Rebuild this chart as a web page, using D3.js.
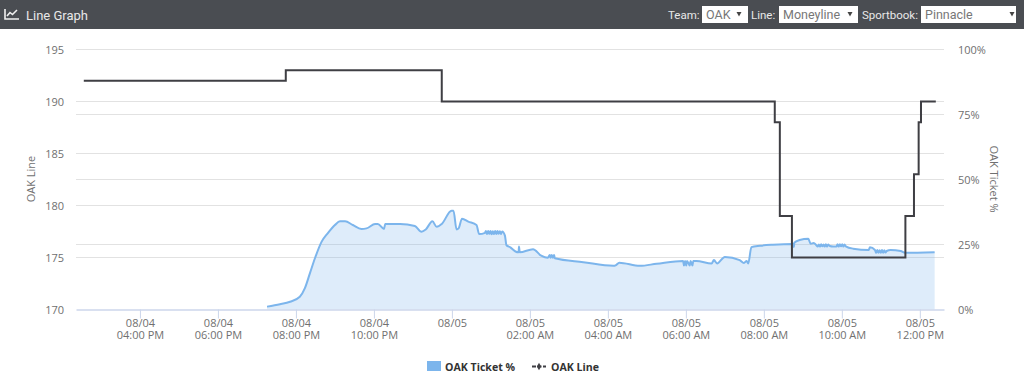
<!DOCTYPE html>
<html>
<head>
<meta charset="utf-8">
<title>Line Graph</title>
<script src="https://cdn.jsdelivr.net/npm/d3@7"></script>
<style>
    html, body { margin: 0; padding: 0; background: #fff; }
    svg { display: block; }
    text { font-family: "Open Sans", sans-serif; }
    .bar-text { font-family: Roboto, sans-serif; font-size: 11.5px; fill: #e8e8e8; }
    .bar-title { font-family: Roboto, sans-serif; font-size: 13px; fill: #e8e8e8; }
    .select-text { font-family: Roboto, sans-serif; font-size: 12.5px; fill: #777; }
    .axis-label { font-size: 11px; fill: #707070; }
    .legend-text { font-size: 10.6px; font-weight: 700; fill: #333; }
</style>
</head>
<body>
<script>
    // hours counted from 08/04 00:00
    var ticketHours = [
        19.26, 19.59, 19.85, 20.10, 20.23, 20.36, 20.49, 20.66, 20.82, 21.00, 21.13, 21.26, 21.46, 21.68, 21.81,
        22.03, 22.10, 22.26, 22.29, 22.67, 23.05, 23.22, 23.33, 23.50, 23.61, 23.74, 23.99, 24.04, 24.12, 24.17, 24.26, 24.42, 24.63, 24.70,
        24.85, 24.87, 24.90, 24.93, 24.96, 24.99, 25.02, 25.05, 25.08, 25.11, 25.14, 25.17, 25.20, 25.23, 25.26, 25.29,
        25.36, 25.40, 25.50, 25.63, 25.71, 25.72, 25.74, 26.08, 26.29, 26.46,
        26.51, 26.53, 26.56, 26.59, 26.62, 26.64,
        27.37, 28.14, 28.21, 28.29, 28.82, 29.25, 29.93,
        29.95, 29.98, 30.01, 30.03, 30.10, 30.12, 30.17, 30.19,
        30.27, 30.66, 30.72, 30.80, 31.00, 31.38, 31.49, 31.56, 31.60, 31.68, 31.90, 32.23, 32.75, 32.77, 32.78,
        32.92, 33.14, 33.20, 33.28, 33.34,
        33.38, 33.41, 33.44, 33.47, 33.50, 33.53, 33.56, 33.59, 33.62, 33.65, 33.69, 33.78,
        33.86, 33.89, 33.92, 33.95, 33.98, 34.01, 34.04, 34.07, 34.10,
        34.29, 34.69, 34.72, 34.85,
        34.88, 34.91, 34.94, 34.97, 35.00, 35.03, 35.06, 35.09, 35.12, 35.15,
        35.25, 35.51, 35.62, 36.38];
    var ticketPct = [
        1.1, 2.0, 3.0, 4.9, 8.2, 14.0, 19.8, 26.1, 29.4, 32.5, 33.9, 33.9, 32.5, 31.0, 31.2,
        32.9, 32.9, 31.0, 32.9, 32.9, 32.1, 29.9, 30.8, 33.9, 31.8, 32.9, 38.0, 38.0, 30.8, 31.2, 34.9, 33.8, 32.5, 29.0,
        29.5, 30.2, 29.0, 30.2, 29.1, 30.2, 28.9, 30.1, 29.0, 30.2, 29.0, 30.2, 29.1, 30.1, 29.0, 30.0,
        28.4, 24.7, 23.9, 22.3, 22.0, 24.2, 22.0, 23.2, 20.7, 19.9,
        21.0, 19.9, 21.0, 19.9, 21.0, 19.7,
        18.2, 16.8, 17.1, 18.0, 16.8, 17.6, 18.7,
        16.9, 18.7, 16.9, 18.7, 16.9, 18.7, 16.9, 18.7,
        18.7, 17.7, 19.0, 17.7, 20.2, 19.0, 17.9, 18.7, 17.7, 24.0, 24.5, 24.9, 25.2, 24.0, 25.7,
        26.7, 27.2, 25.3, 25.6, 24.8,
        24.2, 25.0, 24.2, 25.1, 24.3, 25.0, 24.2, 25.1, 24.2, 25.0, 24.4, 24.2,
        24.2, 25.1, 24.2, 25.1, 24.3, 25.1, 24.2, 25.0, 24.3,
        23.4, 22.9, 23.9, 22.9,
        21.8, 22.9, 21.8, 22.8, 21.8, 22.9, 21.8, 22.8, 21.9, 22.5,
        22.9, 22.5, 21.8, 22.0];

    var lineHours = [14.56, 19.74, 23.74, 32.28, 32.41, 32.72, 35.63, 35.85, 35.97, 36.03, 36.41];
    var lineValues = [192, 193, 190, 188, 179, 175, 179, 183, 188, 190, 190];

    var leftTicks = [170, 175, 180, 185, 190, 195];
    var rightTicks = [0, 25, 50, 75, 100];
    var timeTickHours = [16, 18, 20, 22, 24, 26, 28, 30, 32, 34, 36];
    var timeDomainHours = [14.36, 36.62];

    var width = 1024, height = 380;
    var plot = { left: 76, right: 944, top: 49.5, bottom: 309.5 };

    function toDate(h) {
        return new Date(2017, 7, 4, 0, 0, 0, h * 3600000);
    }

    var svg = d3.select("body").append("svg")
        .attr("width", width)
        .attr("height", height);

    var x = d3.scaleTime().domain(timeDomainHours.map(toDate)).range([plot.left, plot.right]);
    var yLine = d3.scaleLinear().domain([170, 195]).range([plot.bottom, plot.top]);
    var yPct = d3.scaleLinear().domain([0, 100]).range([plot.bottom, plot.top]);

    // header bar
    svg.append("rect").attr("width", width).attr("height", 29).attr("fill", "#4a4d52");
    svg.append("path")
        .attr("d", "M5 9V19H19 M7 16L10 12.5L12.5 14.5L17 10")
        .attr("fill", "none").attr("stroke", "#f0f0f0").attr("stroke-width", 1.6);
    svg.append("text").attr("class", "bar-title").attr("x", 26).attr("y", 20).text("Line Graph");

    function renderSelect(labelX, label, boxX, boxW, value, arrowX) {
        svg.append("text").attr("class", "bar-text").attr("x", labelX).attr("y", 19).text(label);
        svg.append("rect").attr("x", boxX).attr("y", 6).attr("width", boxW).attr("height", 17).attr("fill", "#fff");
        svg.append("text").attr("class", "select-text").attr("x", boxX + 4).attr("y", 19).text(value);
        svg.append("path").attr("d", "M" + (arrowX - 2.5) + " 12H" + (arrowX + 2.5) + "L" + arrowX + " 16.5Z").attr("fill", "#444");
    }
    renderSelect(668, "Team:", 702, 46, "OAK", 739);
    renderSelect(751, "Line:", 779, 79, "Moneyline", 850);
    renderSelect(862, "Sportbook:", 921, 95, "Pinnacle", 1012);

    // grid lines from both y axes
    var grid = svg.append("g");
    grid.selectAll("line.l").data(leftTicks.slice(1)).enter().append("line").attr("class", "l")
        .attr("y1", yLine).attr("y2", yLine);
    grid.selectAll("line.r").data(rightTicks.slice(1)).enter().append("line").attr("class", "r")
        .attr("y1", yPct).attr("y2", yPct);
    grid.selectAll("line")
        .attr("x1", plot.left).attr("x2", plot.right)
        .attr("stroke", "#e2e2e2").attr("stroke-width", 1);

    // ticket % area and line
    var ticket = ticketHours.map(function(h, i) { return { t: toDate(h), v: ticketPct[i] }; });
    var area = d3.area().curve(d3.curveMonotoneX).x(function(d) { return x(d.t); }).y0(yPct(0)).y1(function(d) { return yPct(d.v); });
    var ticketLine = d3.line().curve(d3.curveMonotoneX).x(function(d) { return x(d.t); }).y(function(d) { return yPct(d.v); });
    svg.append("path").datum(ticket).attr("d", area).attr("fill", "#7cb5ec").attr("fill-opacity", 0.25);
    svg.append("path").datum(ticket).attr("d", ticketLine)
        .attr("fill", "none").attr("stroke", "#7cb5ec").attr("stroke-width", 2);

    // x axis
    var xAxis = d3.axisBottom(x)
        .tickValues(timeTickHours.map(toDate))
        .tickSizeInner(9)
        .tickSizeOuter(0)
        .tickFormat(function() { return ""; });
    var xg = svg.append("g").attr("transform", "translate(0," + plot.bottom + ")").call(xAxis);
    xg.select(".domain").attr("stroke", "#ccd6eb").attr("stroke-width", 1.5);
    xg.selectAll(".tick line").attr("stroke", "#ccd6eb");
    var xText = xg.selectAll(".tick text").attr("class", "axis-label").attr("fill", null);
    xText.append("tspan").attr("x", 0).attr("y", 17).attr("dy", 0).text(d3.timeFormat("%m/%d"));
    xText.filter(function(d) { return d.getHours() !== 0; })
        .append("tspan").attr("x", 0).attr("y", 29.5).text(d3.timeFormat("%I:%M %p"));

    // y axes
    var leftG = svg.append("g").attr("transform", "translate(" + plot.left + ",0)")
        .call(d3.axisLeft(yLine).tickValues(leftTicks).tickSize(0).tickPadding(12));
    var rightG = svg.append("g").attr("transform", "translate(" + plot.right + ",0)")
        .call(d3.axisRight(yPct).tickValues(rightTicks).tickSize(0).tickPadding(14)
            .tickFormat(function(d) { return d + "%"; }));
    leftG.select(".domain").remove();
    rightG.select(".domain").remove();
    leftG.selectAll("text").attr("class", "axis-label").attr("fill", null);
    rightG.selectAll("text").attr("class", "axis-label").attr("fill", null);

    svg.append("text").attr("class", "axis-label").attr("text-anchor", "middle")
        .attr("transform", "translate(35,179) rotate(-90)").text("OAK Line");
    svg.append("text").attr("class", "axis-label").attr("text-anchor", "middle")
        .attr("transform", "translate(990,179) rotate(90)").text("OAK Ticket %");

    // moneyline steps
    var line = lineHours.map(function(h, i) { return { t: toDate(h), v: lineValues[i] }; });
    var step = d3.line().curve(d3.curveStepAfter).x(function(d) { return x(d.t); }).y(function(d) { return yLine(d.v); });
    svg.append("path").datum(line).attr("d", step)
        .attr("fill", "none").attr("stroke", "#3f3f44").attr("stroke-width", 2);

    // legend
    svg.append("rect").attr("x", 427).attr("y", 361).attr("width", 14).attr("height", 10).attr("fill", "#7cb5ec");
    svg.append("text").attr("class", "legend-text").attr("x", 445).attr("y", 370.5).text("OAK Ticket %");
    svg.append("line").attr("x1", 532).attr("x2", 546).attr("y1", 366.5).attr("y2", 366.5)
        .attr("stroke", "#3f3f44").attr("stroke-width", 2).attr("stroke-dasharray", "4 1.5");
    svg.append("path").attr("d", d3.symbol(d3.symbolDiamond, 16)).attr("transform", "translate(539,366.5)").attr("fill", "#3f3f44");
    svg.append("text").attr("class", "legend-text").attr("x", 551).attr("y", 370.5).text("OAK Line");
</script>
</body>
</html>
